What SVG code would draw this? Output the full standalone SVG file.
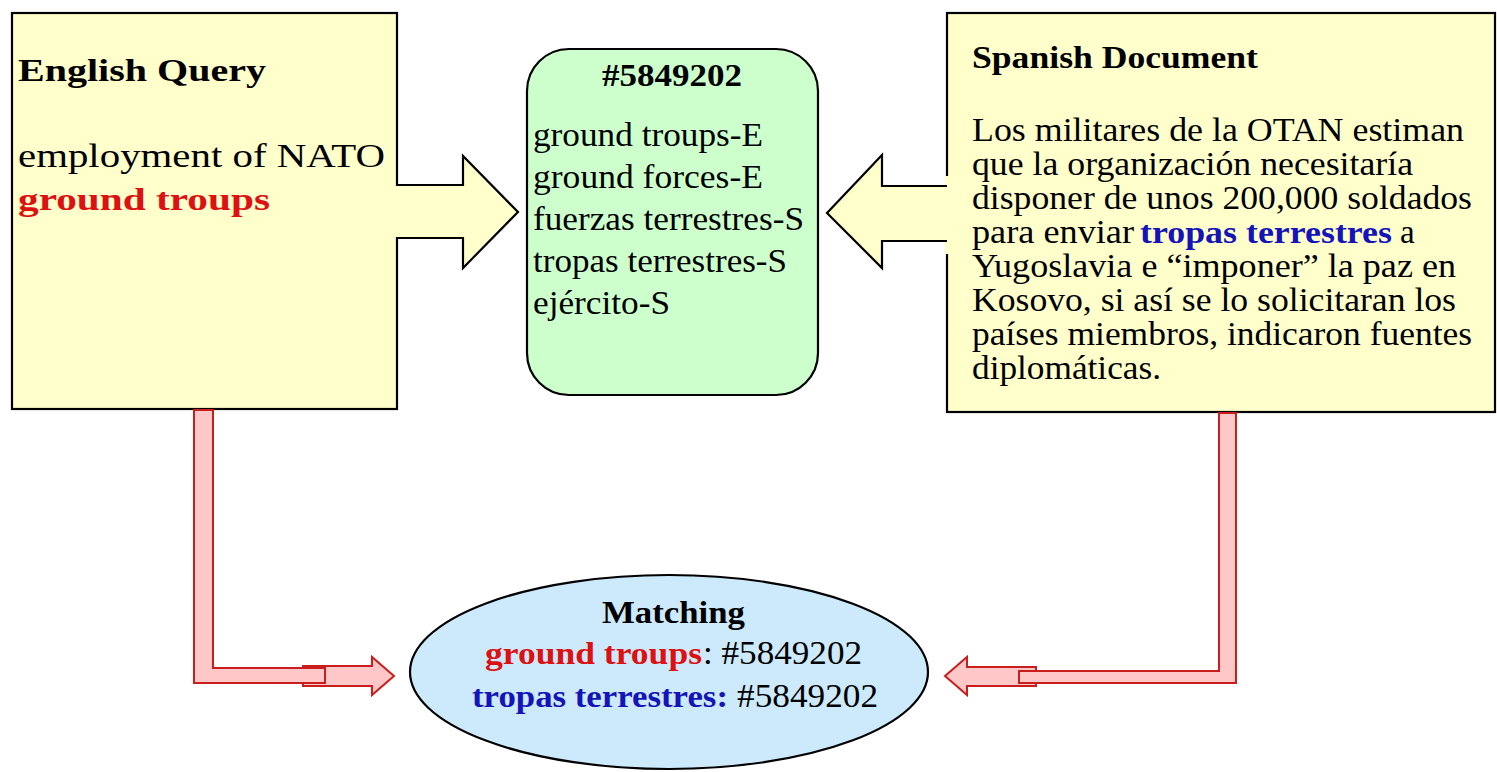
<svg xmlns="http://www.w3.org/2000/svg" width="1497" height="772" viewBox="0 0 1497 772">
<style>
  .box { fill: #FFFFCC; stroke: #000; stroke-width: 2.2; }
  .ili { fill: #CCFFCC; stroke: #000; stroke-width: 2.2; }
  .match { fill: #CCEAFC; stroke: #000; stroke-width: 2.2; }
  .arrowfill { fill: #FFFFCC; stroke: none; }
  .arrowline { fill: none; stroke: #000; stroke-width: 2.2; }
  .pink { fill: #FFC8C8; stroke: #C81E1E; stroke-width: 2; stroke-linejoin: miter; }
  text { font-family: "Liberation Serif", "Times New Roman", serif; fill: #000; }
  .t { font-size: 33px; }
  .b { font-size: 31px; font-weight: bold; }
  .red { fill: #DD1111; }
  .blue { fill: #1414B8; }
</style>
<rect width="1497" height="772" fill="#FFFFFF"/>

<g id="node-english-query">
  <rect class="box" x="12" y="13" width="385" height="396"/>
  <text class="b" x="18" y="81" textLength="248" lengthAdjust="spacingAndGlyphs">English Query</text>
  <text class="t" x="18" y="167" textLength="367" lengthAdjust="spacingAndGlyphs">employment of NATO</text>
  <text class="b red" x="18" y="210" textLength="252" lengthAdjust="spacingAndGlyphs">ground troups</text>
</g>

<g id="node-ili">
  <rect class="ili" x="527" y="49" width="291" height="346" rx="42" ry="42"/>
  <text class="b" x="602" y="86" textLength="140" lengthAdjust="spacingAndGlyphs">#5849202</text>
  <text class="t" x="533" y="146" textLength="230" lengthAdjust="spacingAndGlyphs">ground troups-E</text>
  <text class="t" x="533" y="188" textLength="230" lengthAdjust="spacingAndGlyphs">ground forces-E</text>
  <text class="t" x="533" y="230" textLength="271" lengthAdjust="spacingAndGlyphs">fuerzas terrestres-S</text>
  <text class="t" x="533" y="272" textLength="254" lengthAdjust="spacingAndGlyphs">tropas terrestres-S</text>
  <text class="t" x="533" y="314" textLength="137" lengthAdjust="spacingAndGlyphs">ejército-S</text>
</g>

<g id="node-spanish-document">
  <rect class="box" x="947" y="13" width="548" height="399"/>
  <text class="b" x="972" y="68" textLength="286" lengthAdjust="spacingAndGlyphs">Spanish Document</text>
  <text class="t" x="972" y="141" textLength="492" lengthAdjust="spacingAndGlyphs">Los militares de la OTAN estiman</text>
  <text class="t" x="972" y="175" textLength="441" lengthAdjust="spacingAndGlyphs">que la organización necesitaría</text>
  <text class="t" x="972" y="209" textLength="500" lengthAdjust="spacingAndGlyphs">disponer de unos 200,000 soldados</text>
  <text class="t" x="972" y="243" textLength="162" lengthAdjust="spacingAndGlyphs">para enviar</text>
  <text class="b blue" x="1140" y="243" textLength="252" lengthAdjust="spacingAndGlyphs">tropas terrestres</text>
  <text class="t" x="1400" y="243">a</text>
  <text class="t" x="972" y="277" textLength="484" lengthAdjust="spacingAndGlyphs">Yugoslavia e “imponer” la paz en</text>
  <text class="t" x="972" y="311" textLength="484" lengthAdjust="spacingAndGlyphs">Kosovo, si así se lo solicitaran los</text>
  <text class="t" x="972" y="345" textLength="500" lengthAdjust="spacingAndGlyphs">países miembros, indicaron fuentes</text>
  <text class="t" x="972" y="379" textLength="189" lengthAdjust="spacingAndGlyphs">diplomáticas.</text>
</g>

<g id="node-matching">
  <ellipse class="match" cx="669" cy="672" rx="259" ry="97"/>
  <text class="b" x="602" y="623" textLength="143" lengthAdjust="spacingAndGlyphs">Matching</text>
  <text class="b red" x="485" y="664" textLength="217" lengthAdjust="spacingAndGlyphs">ground troups</text>
  <text class="t" x="703" y="664" textLength="159" lengthAdjust="spacingAndGlyphs">: #5849202</text>
  <text class="b blue" x="472" y="707" textLength="256" lengthAdjust="spacingAndGlyphs">tropas terrestres:</text>
  <text class="t" x="737" y="707" textLength="141" lengthAdjust="spacingAndGlyphs">#5849202</text>
</g>

<g id="connectors">
  <!-- left block arrow: query to ILI -->
  <path class="arrowfill" d="M395,186 H463 V156 L518,212 L463,268 V237 H395 Z"/>
  <path class="arrowline" d="M397,185 H463 V156 L518,212 L463,268 V238 H397"/>
  <!-- right block arrow: document to ILI -->
  <rect class="arrowfill" x="945" y="176" width="5" height="78"/>
  <path class="arrowfill" d="M949,187 H882 V155 L827,213 L882,268 V240 H949 Z"/>
  <path class="arrowline" d="M947,186 H882 V155 L827,213 L882,268 V241 H947"/>
  <!-- left pink connector to matching -->
  <path class="pink" d="M303,666 H372 V657 L394,676 L372,695 V686 H303 Z"/>
  <path class="pink" d="M194,410 H213 V668 H325 V683 H194 Z"/>
  <!-- right pink connector to matching -->
  <path class="pink" d="M1036,667 H967 V657 L945,676 L967,695 V686 H1036 Z"/>
  <path class="pink" d="M1219,413 H1236 V683 H1019 V671 H1219 Z"/>
</g>
</svg>
